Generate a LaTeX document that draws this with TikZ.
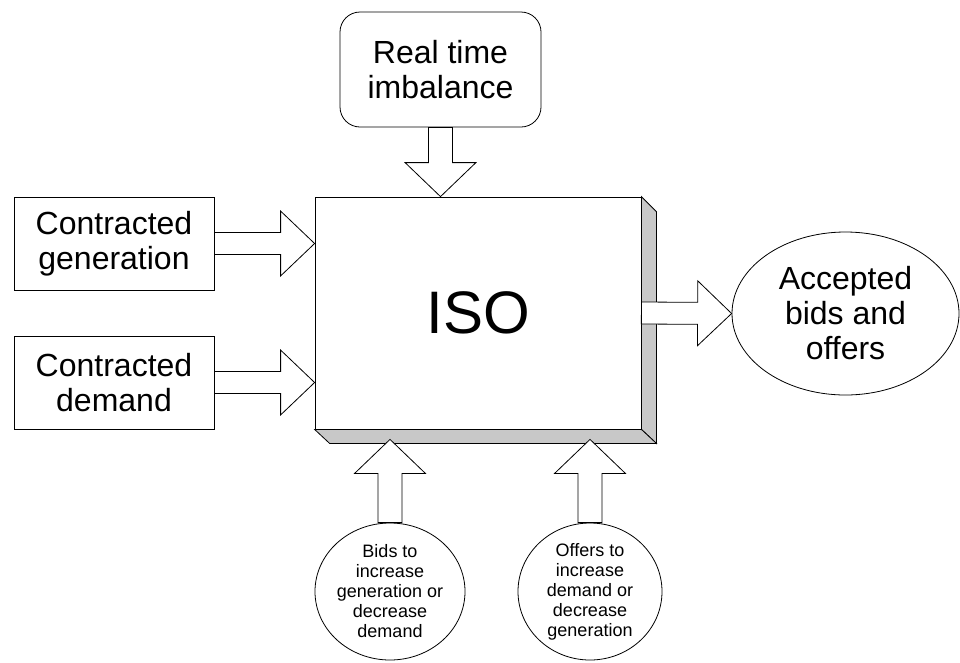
\documentclass[tikz,border=0pt]{standalone}
\usepackage{fontspec}
\setmainfont{Liberation Sans}
\usepackage{tikz}
\usetikzlibrary{calc}
\usetikzlibrary{shapes.geometric}

\definecolor{sidegray}{RGB}{200,200,200}

\newcommand{\blockarrow}[3][12pt]{%
  \coordinate (ab) at ($(#3)!34pt!(#2)$);
  \draw[fill=white] ($(#2)!#1!90:(#3)$) -- ($(ab)!#1!90:(#3)$) -- ($(ab)!2.95*#1!90:(#3)$) -- (#3)
    -- ($(ab)!2.95*#1!-90:(#3)$) -- ($(ab)!#1!-90:(#3)$) -- ($(#2)!#1!-90:(#3)$) -- cycle;}

\begin{document}
\begin{tikzpicture}[x=1pt,y=-1pt,line width=.8pt,
  box/.style={draw, fill=white, align=center, font=\fontsize{32}{35}\selectfont},
  smalltext/.style={draw, ellipse, align=center, inner sep=0pt, font=\fontsize{18}{20}\selectfont}]
\useasboundingbox (0,0) rectangle (960,662);
\node (rt) at (440.5,69.5) [box, rounded corners=20pt, minimum width=201pt, minimum height=115pt] {Real time\\imbalance};
\node (cg) at (114,243.5) [box, minimum width=200pt, minimum height=93pt] {Contracted\\generation};
\node (cd) at (114,382.5) [box, minimum width=200pt, minimum height=93pt] {Contracted\\demand};
\node (iso) at (478,313) [draw, fill=white, minimum width=326pt, minimum height=232pt, font=\fontsize{60}{72}\selectfont] {ISO};
\draw[fill=sidegray] (iso.north east) -- ++(15,15) -- ($(iso.south east)+(15,14)$) -- (iso.south east) -- cycle;
\draw[fill=sidegray] (iso.south west) -- ++(15,14) -- ($(iso.south east)+(15,14)$) -- (iso.south east) -- cycle;
\node (acc) at (845.5,313.5) [box, ellipse, inner sep=0pt, minimum width=227pt, minimum height=163pt] {Accepted\\bids and\\offers};
\node (bids) at (390,591.5) [smalltext, minimum width=144pt, minimum height=137pt] {Bids to\\increase\\generation or\\decrease\\demand};
\node (offers) at (590,591.5) [smalltext, minimum width=144pt, minimum height=137pt] {Offers to\\increase\\demand or\\decrease\\generation};
\coordinate (rtin) at (rt.south |- iso.north);
\coordinate (cgin) at (cg.east -| iso.west);
\coordinate (cdin) at (cd.east -| iso.west);
\coordinate (bidsin) at ($(bids.north |- iso.south)+(0,10)$);
\coordinate (offersin) at ($(offers.north |- iso.south)+(0,10)$);
\blockarrow{rt.south}{rtin}
\blockarrow[11pt]{cg.east}{cgin}
\blockarrow[11pt]{cd.east}{cdin}
\blockarrow[11pt]{iso.east}{acc.west}
\blockarrow{bids.north}{bidsin}
\blockarrow{offers.north}{offersin}
\end{tikzpicture}
\end{document}
